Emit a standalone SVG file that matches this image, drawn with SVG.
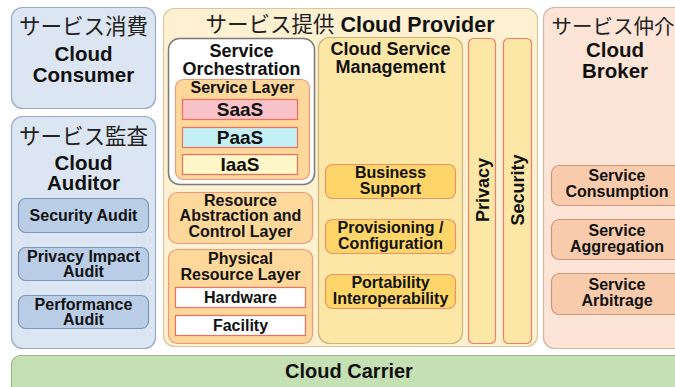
<svg xmlns="http://www.w3.org/2000/svg" width="675" height="387" viewBox="0 0 675 387">
  <style>
    text { font-family: "Liberation Sans", Arial, sans-serif; font-weight: bold; fill: #111; text-anchor: middle; }
    .jp { font-family: "Noto Sans CJK JP", "Liberation Sans", sans-serif; font-weight: normal; fill: #222; }
    .big { font-size: 20.5px; }
    .mid { font-size: 18px; }
    .sm { font-size: 16px; }
    .actor-blue { fill: #dce6f2; stroke: #97aac6; stroke-width: 1.2; }
    .sub-blue { fill: #b9cde6; stroke: #7d96ba; stroke-width: 1.2; }
    .provider { fill: #fdf1d2; stroke: #d8c79a; stroke-width: 1.2; }
    .orch { fill: #ffffff; stroke: #7a7a7a; stroke-width: 1.5; }
    .layer { fill: #fdd89a; stroke: #f0967a; stroke-width: 1.2; }
    .csm { fill: #fde7a6; stroke: #c9b47a; stroke-width: 1.2; }
    .csm-item { fill: #fed568; stroke: #f08f6a; stroke-width: 1.2; }
    .column { fill: #fde7a6; stroke: #f07f6a; stroke-width: 1.2; }
    .cell { stroke: #ee6f5e; stroke-width: 1.2; }
    .broker { fill: #fce5d7; stroke: #d9b4a2; stroke-width: 1.2; }
    .broker-item { fill: #f8cbac; stroke: #cf9578; stroke-width: 1.2; }
    .carrier { fill: #c5e0b3; stroke: #9fb78e; stroke-width: 1.2; }
  </style>

  <rect width="675" height="387" fill="#ffffff"/>

  <!-- Cloud Consumer -->
  <g id="cloud-consumer">
    <rect class="actor-blue" x="11.5" y="7.5" width="144" height="101" rx="11"/>
    <text class="jp" x="83.5" y="34" font-size="21.5">サービス消費</text>
    <text class="big" x="83.5" y="61">Cloud</text>
    <text class="big" x="83.5" y="82">Consumer</text>
  </g>

  <!-- Cloud Auditor -->
  <g id="cloud-auditor">
    <rect class="actor-blue" x="11.5" y="116.5" width="144" height="232" rx="11"/>
    <text class="jp" x="83.5" y="144" font-size="21.5">サービス監査</text>
    <text class="big" x="83.5" y="170">Cloud</text>
    <text class="big" x="83.5" y="190">Auditor</text>
    <g id="security-audit">
      <rect class="sub-blue" x="18.5" y="198.5" width="130" height="34" rx="7"/>
      <text class="sm" x="83.5" y="221">Security Audit</text>
    </g>
    <g id="privacy-impact-audit">
      <rect class="sub-blue" x="18.5" y="247.5" width="130" height="33" rx="7"/>
      <text class="sm" x="83.5" y="262">Privacy Impact</text>
      <text class="sm" x="83.5" y="277">Audit</text>
    </g>
    <g id="performance-audit">
      <rect class="sub-blue" x="18.5" y="295.5" width="130" height="33" rx="7"/>
      <text class="sm" x="83.5" y="310">Performance</text>
      <text class="sm" x="83.5" y="325">Audit</text>
    </g>
  </g>

  <!-- Cloud Provider -->
  <g id="cloud-provider">
    <rect class="provider" x="163.5" y="8.5" width="374" height="338" rx="11"/>
    <text x="350" y="32"><tspan class="jp" font-size="21.5">サービス提供</tspan><tspan font-size="21.5"> Cloud Provider</tspan></text>

    <g id="service-orchestration">
      <rect class="orch" x="168.5" y="38.5" width="146" height="146" rx="11"/>
      <text class="mid" x="241.5" y="57">Service</text>
      <text class="mid" x="241.5" y="75">Orchestration</text>
      <g id="service-layer">
        <rect class="layer" x="175.5" y="79.5" width="134" height="100" rx="8"/>
        <text class="sm" x="242.5" y="93">Service Layer</text>
        <g id="saas">
          <rect class="cell" fill="#f8c2c8" x="182.5" y="99.5" width="115" height="20"/>
          <text x="240" y="116" font-size="19">SaaS</text>
        </g>
        <g id="paas">
          <rect class="cell" fill="#c2f0f4" x="182.5" y="127.5" width="115" height="20"/>
          <text x="240" y="144" font-size="19">PaaS</text>
        </g>
        <g id="iaas">
          <rect class="cell" fill="#fff7c8" x="182.5" y="154.5" width="115" height="20"/>
          <text x="240" y="171" font-size="19">IaaS</text>
        </g>
      </g>
    </g>

    <g id="resource-abstraction">
      <rect class="layer" x="168.5" y="192.5" width="144" height="51" rx="9"/>
      <text class="sm" x="240.5" y="206">Resource</text>
      <text class="sm" x="240.5" y="221">Abstraction and</text>
      <text class="sm" x="240.5" y="237">Control Layer</text>
    </g>

    <g id="physical-resource-layer">
      <rect class="layer" x="168.5" y="249.5" width="144" height="94" rx="9"/>
      <text class="sm" x="240.5" y="264">Physical</text>
      <text class="sm" x="240.5" y="280">Resource Layer</text>
      <g id="hardware">
        <rect class="cell" fill="#ffffff" x="175.5" y="287.5" width="130" height="20"/>
        <text class="sm" x="240.5" y="303">Hardware</text>
      </g>
      <g id="facility">
        <rect class="cell" fill="#ffffff" x="175.5" y="315.5" width="130" height="20"/>
        <text class="sm" x="240.5" y="331">Facility</text>
      </g>
    </g>

    <g id="cloud-service-management">
      <rect class="csm" x="318.5" y="37.5" width="144" height="306" rx="11"/>
      <text class="mid" x="390.5" y="55">Cloud Service</text>
      <text class="mid" x="390.5" y="73">Management</text>
      <g id="business-support">
        <rect class="csm-item" x="325.5" y="164.5" width="130" height="34" rx="7"/>
        <text class="sm" x="390.5" y="178">Business</text>
        <text class="sm" x="390.5" y="194">Support</text>
      </g>
      <g id="provisioning-configuration">
        <rect class="csm-item" x="325.5" y="219.5" width="130" height="34" rx="7"/>
        <text class="sm" x="390.5" y="233">Provisioning /</text>
        <text class="sm" x="390.5" y="249">Configuration</text>
      </g>
      <g id="portability-interoperability">
        <rect class="csm-item" x="325.5" y="274.5" width="130" height="34" rx="7"/>
        <text class="sm" x="390.5" y="288">Portability</text>
        <text class="sm" x="390.5" y="304">Interoperability</text>
      </g>
    </g>

    <g id="privacy">
      <rect class="column" x="468.5" y="38.5" width="27" height="305" rx="5"/>
      <text class="mid" transform="translate(488.5,190) rotate(-90)">Privacy</text>
    </g>
    <g id="security">
      <rect class="column" x="503.5" y="38.5" width="28" height="305" rx="5"/>
      <text class="mid" transform="translate(524,190) rotate(-90)">Security</text>
    </g>
  </g>

  <!-- Cloud Broker -->
  <g id="cloud-broker">
    <rect class="broker" x="543.5" y="7.5" width="150" height="341" rx="11"/>
    <text class="jp" x="613" y="34" font-size="20.5">サービス仲介</text>
    <text class="big" x="615" y="57">Cloud</text>
    <text class="big" x="615" y="78">Broker</text>
    <g id="service-consumption">
      <rect class="broker-item" x="551.5" y="165.5" width="135" height="40" rx="8"/>
      <text class="sm" x="617" y="181">Service</text>
      <text class="sm" x="617" y="197">Consumption</text>
    </g>
    <g id="service-aggregation">
      <rect class="broker-item" x="551.5" y="219.5" width="135" height="40" rx="8"/>
      <text class="sm" x="617" y="236">Service</text>
      <text class="sm" x="617" y="252">Aggregation</text>
    </g>
    <g id="service-arbitrage">
      <rect class="broker-item" x="551.5" y="273.5" width="135" height="41" rx="8"/>
      <text class="sm" x="617" y="290">Service</text>
      <text class="sm" x="617" y="306">Arbitrage</text>
    </g>
  </g>

  <!-- Cloud Carrier -->
  <g id="cloud-carrier">
    <rect class="carrier" x="11.5" y="355.5" width="680" height="45" rx="9"/>
    <text x="349" y="378" font-size="20">Cloud Carrier</text>
  </g>

  <!-- no connectors in this layout -->
  <g id="connectors"/>
</svg>
